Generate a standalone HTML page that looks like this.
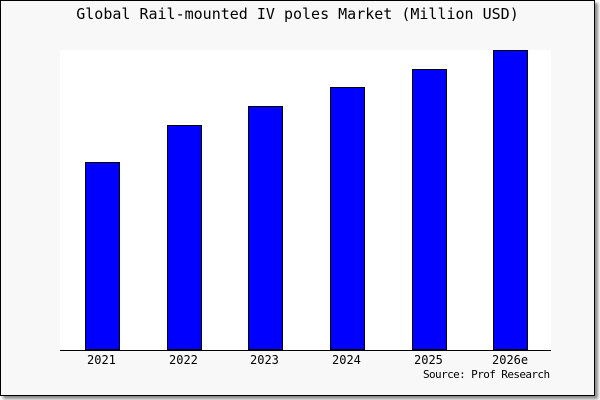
<!DOCTYPE html>
<html><head><style>
body{margin:0;width:600px;height:400px;background:#fff;position:relative;overflow:hidden;font-family:"DejaVu Sans Mono","Liberation Mono",monospace}
.frame{position:absolute;left:0;top:0;width:593px;height:394px;border:1px solid #000;background:#f8f8f8;box-shadow:3px 3px 3px #888}
.plot{position:absolute;left:59px;top:49px;width:491px;height:300px;background:#fff;border-bottom:1px solid #000}
.bar{position:absolute;background:#0000ff;border:1px solid #000;box-sizing:border-box;width:35px;bottom:0}
.t{position:absolute;font-size:12px;color:#000;white-space:nowrap}
</style></head><body>
<div class="frame">
<div class="t" style="left:0;width:593px;text-align:center;top:4px;font-size:15px">Global Rail-mounted IV poles Market (Million USD)</div>
<div class="plot">
<div class="bar" style="left:25px;height:188px"></div>
<div class="bar" style="left:107px;height:225px"></div>
<div class="bar" style="left:188px;height:244px"></div>
<div class="bar" style="left:270px;height:263px"></div>
<div class="bar" style="left:352px;height:281px"></div>
<div class="bar" style="left:433px;height:300px"></div>
</div>
<div class="t" style="left:86px;top:352px">2021</div>
<div class="t" style="left:168px;top:352px">2022</div>
<div class="t" style="left:249px;top:352px">2023</div>
<div class="t" style="left:331px;top:352px">2024</div>
<div class="t" style="left:413px;top:352px">2025</div>
<div class="t" style="left:491px;top:352px">2026e</div>
<div class="t" style="left:422px;top:367px;font-size:11px;letter-spacing:-0.6px">Source: Prof Research</div>
</div>
</body></html>
